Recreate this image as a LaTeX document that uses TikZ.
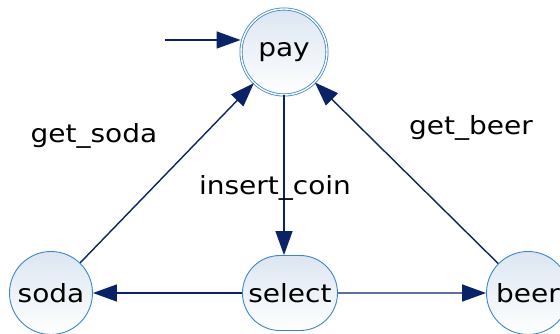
\documentclass[tikz,border=0pt]{standalone}
\usepackage{fontspec}
\setmainfont{DejaVu Sans}[FakeStretch=1.12]
\usetikzlibrary{arrows.meta,shapes.misc}
\definecolor{edgeblue}{HTML}{0A2366}
\definecolor{rimblue}{HTML}{3A86CC}
\definecolor{topfill}{HTML}{DCE6F1}
\tikzset{
  state/.style={circle, draw=rimblue, line width=0.9pt, top color=topfill, bottom color=white,
    minimum size=83pt, inner sep=0pt, font=\fontsize{25}{29}\selectfont},
  accepting/.style={double=white, double distance=1.4pt, line width=0.8pt, minimum size=86pt},
  blob/.style={rounded rectangle, draw=rimblue, line width=0.9pt, top color=topfill, bottom color=white,
    minimum width=95pt, minimum height=75pt, inner sep=0pt, font=\fontsize{25}{29}\selectfont},
  trans/.style={draw=edgeblue, line width=1.4pt, -{Triangle[length=24pt,width=17pt]}},
  lbl/.style={font=\fontsize{25}{29}\selectfont}
}
\begin{document}
\begin{tikzpicture}[x=1pt,y=-1pt]
\useasboundingbox (0,0) rectangle (560,334);
\node[state,accepting] (pay) at (284,52) {pay};
\node[state] (soda) at (51,293) {soda};
\node[blob] (select) at (290,293) {select};
\node[state] (beer) at (528,293) {beer};
\coordinate (init) at (165,40);
\draw[trans] (init) -- (pay.west |- init);
\draw[trans] (pay.south -| 284,0) -- (select.north -| 284,0);
\draw[trans] (select) -- (soda);
\draw[trans] (select) -- (beer);
\draw[trans] (soda) -- (pay);
\draw[trans] (beer) -- (pay);
\node[lbl] (l1) at (94,136) {get\_soda};
\node[lbl] (l2) at (471,128) {get\_beer};
\node[lbl] (l3) at (275,188) {insert\_coin};
\end{tikzpicture}
\end{document}
